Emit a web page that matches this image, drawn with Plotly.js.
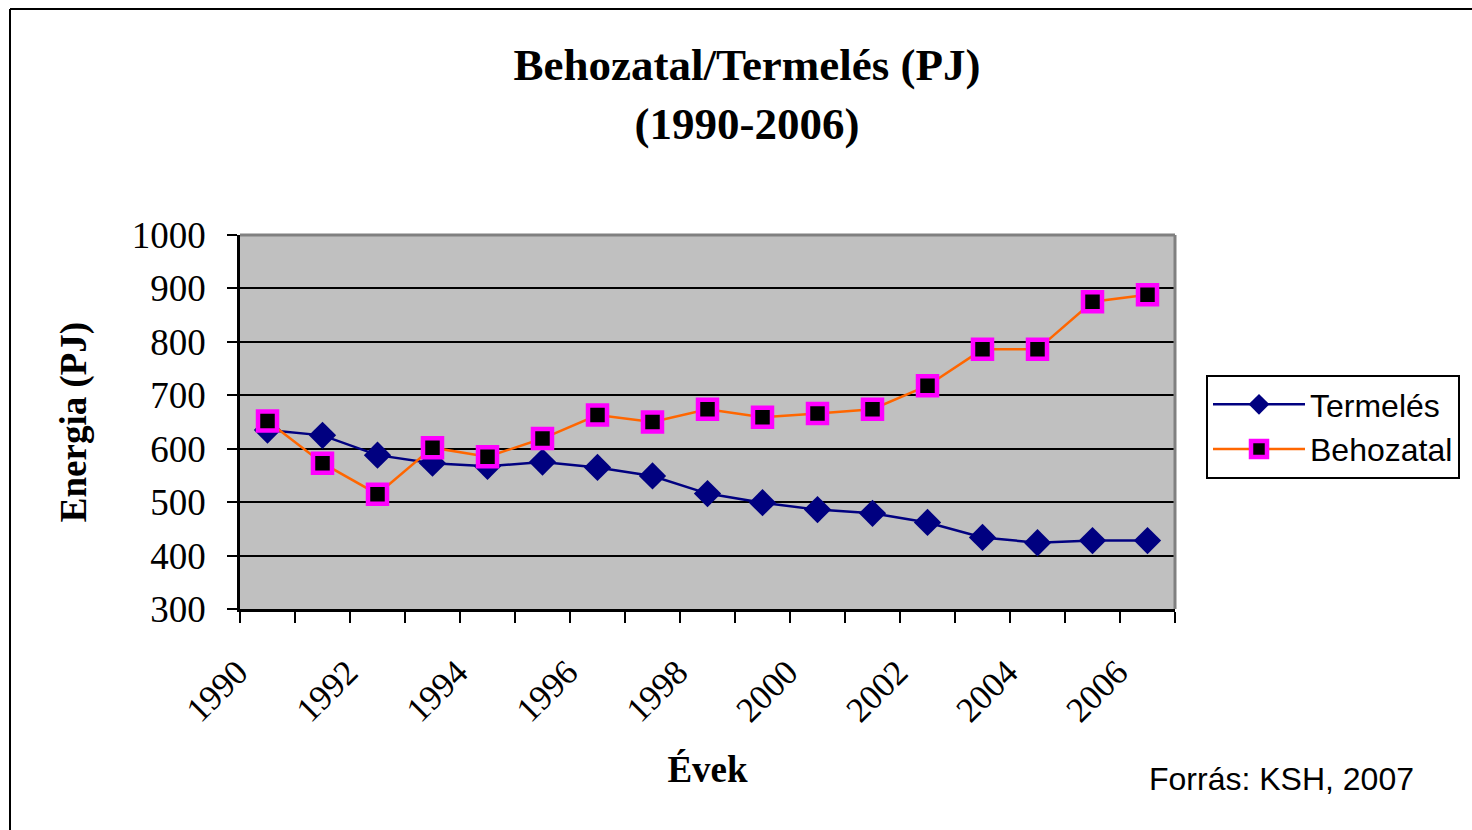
<!DOCTYPE html>
<html>
<head>
<meta charset="utf-8">
<script src="https://cdn.plot.ly/plotly-3.0.1.min.js"></script>
<style>
html,body{margin:0;padding:0;background:#fff;}
#chart{width:1472px;height:830px;}
</style>
</head>
<body>
<div id="chart"></div>
<script>
const years = [1990,1991,1992,1993,1994,1995,1996,1997,1998,1999,2000,2001,2002,2003,2004,2005,2006];
const termeles = [635,625,588,573,567,575,565,549,516,499,486,479,462,434,424,428,428];
const behozatal = [652,573,515,602,585,619,663,650,674,659,666,674,718,786,786,875,888];
const yearLabels = ['1990','1992','1994','1996','1998','2000','2002','2004','2006'];
const yearLabelVals = [1990,1992,1994,1996,1998,2000,2002,2004,2006];
const seriesNames = ['Termelés','Behozatal'];

const W = 1472, H = 830;
const mL = 240, mR = 297, mT = 235, mB = 221;
const pw = W - mL - mR, ph = H - mT - mB;
const px = x => (x - mL) / pw;
const py = y => (H - mB - y) / ph;

const serif = 'Liberation Serif, Times New Roman, serif';
const sans = 'Liberation Sans, Arial, sans-serif';

const traces = [
  {
    x: years, y: termeles, name: seriesNames[0], type: 'scatter', mode: 'lines+markers',
    line: {color: '#000080', width: 2.5},
    marker: {symbol: 'diamond', size: 21, color: '#000080', line: {width: 0}}
  },
  {
    x: years, y: behozatal, name: seriesNames[1], type: 'scatter', mode: 'lines+markers',
    line: {color: '#FF6600', width: 2.5},
    marker: {symbol: 'square', size: 19, color: '#000000', line: {color: '#FF00FF', width: 4.5}}
  }
];

const layout = {
  width: W, height: H,
  margin: {l: mL, r: mR, t: mT, b: mB, pad: 0},
  paper_bgcolor: '#ffffff',
  plot_bgcolor: '#C0C0C0',
  showlegend: true,
  title: {
    text: '<b>Behozatal/Termelés (PJ)<br>(1990-2006)</b>',
    font: {family: serif, size: 45, color: '#000'},
    x: 747 / W, xanchor: 'center', xref: 'container',
    y: 1 - 80 / H, yanchor: 'top', yref: 'container'
  },
  xaxis: {
    type: 'linear',
    range: [1989.5, 2006.5],
    tickmode: 'array', tickvals: yearLabelVals, ticktext: yearLabels,
    tickangle: -45,
    ticks: 'outside', ticklen: 0, tickcolor: 'rgba(0,0,0,0)',
    minor: {ticks: 'outside', tick0: 1989.5, dtick: 1, ticklen: 11, tickwidth: 2, tickcolor: '#000', showgrid: false},
    tickfont: {family: serif, size: 35, color: '#000'},
    ticklabelstandoff: 26,
    ticklabelshift: -30,
    showgrid: false, zeroline: false,
    showline: true, linecolor: '#000', linewidth: 2.5,
    title: {text: '<b>Évek</b>', font: {family: serif, size: 37, color: '#000'}, standoff: 28}
  },
  yaxis: {
    range: [300, 1000],
    tickmode: 'linear', tick0: 300, dtick: 100,
    ticks: 'outside', ticklen: 10, tickwidth: 2, tickcolor: '#000',
    tickfont: {family: serif, size: 37, color: '#000'},
    ticklabelstandoff: 14,
    showgrid: true, gridcolor: '#000', gridwidth: 2,
    zeroline: false,
    showline: true, linecolor: '#000', linewidth: 2.5,
    title: {text: '<b>Energia (PJ)</b>', font: {family: serif, size: 37, color: '#000'}, standoff: 34}
  },
  legend: {
    x: px(1206), y: py(375), xanchor: 'left', yanchor: 'top',
    bgcolor: '#fff', bordercolor: '#000', borderwidth: 2,
    font: {family: sans, size: 32, color: '#000'},
    tracegroupgap: 0, itemwidth: 92
  },
  shapes: [
    {type: 'line', xref: 'paper', yref: 'paper', x0: px(10), x1: px(10), y0: py(9), y1: py(840), line: {color: '#000', width: 2}},
    {type: 'line', xref: 'paper', yref: 'paper', x0: px(10), x1: px(1480), y0: py(9), y1: py(9), line: {color: '#000', width: 2}},
    {type: 'line', xref: 'paper', yref: 'paper', x0: 0, x1: 1, y0: 1, y1: 1, line: {color: '#808080', width: 3}, layer: 'above'},
    {type: 'line', xref: 'paper', yref: 'paper', x0: 1, x1: 1, y0: 0, y1: 1, line: {color: '#808080', width: 3}, layer: 'above'}
  ],
  annotations: [
    {text: 'Forrás: KSH, 2007', xref: 'paper', yref: 'paper', x: px(1147), y: py(779),
     xanchor: 'left', yanchor: 'middle', showarrow: false,
     font: {family: sans, size: 32, color: '#000'}}
  ]
};

Plotly.newPlot('chart', traces, layout, {displayModeBar: false, responsive: false});
</script>
</body>
</html>
